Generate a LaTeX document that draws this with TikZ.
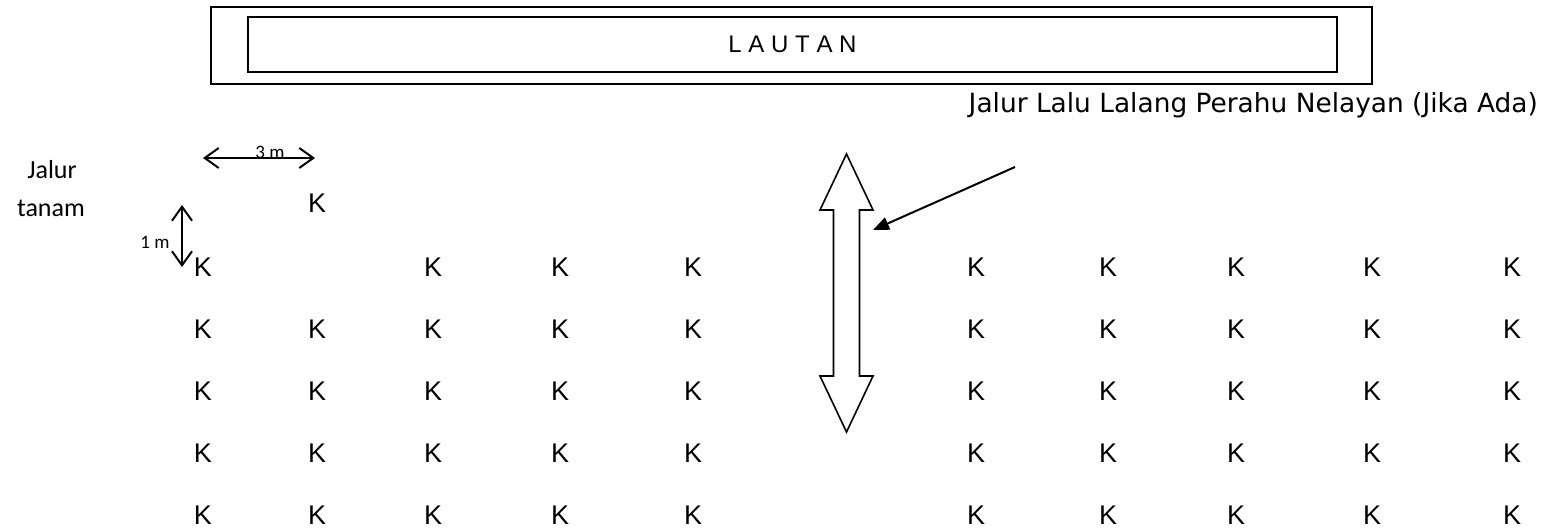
\documentclass[tikz,border=0pt]{standalone}
\usepackage{fontspec}
\setmainfont{Liberation Sans}
\newfontfamily\verdfont{DejaVu Sans}
\newfontfamily\calfont{Carlito}
\usetikzlibrary{arrows.meta}
\begin{document}
\begin{tikzpicture}[x=1pt,y=-1pt,
  box/.style={draw, line width=1.8pt, inner sep=0, fill=none},
  kk/.style={font=\fontsize{27}{30}\selectfont, inner sep=0},
  cal/.style={font=\calfont\fontsize{26}{30}\selectfont, inner sep=0},
  small/.style={font=\calfont\fontsize{19}{22}\selectfont, inner sep=0},
  dim/.style={line width=2pt, {Straight Barb[length=14pt,width=20pt]}-{Straight Barb[length=14pt,width=20pt]}},
  ]
\fill[white] (0,0) rectangle (1546,527);
\useasboundingbox (0,0) rectangle (1546,527);

% sea boxes
\node[box, minimum width=1161pt, minimum height=77.6pt] (outer) at (791.5,45.5) {};
\node[box, minimum width=1089pt, minimum height=55pt, font=\fontsize{24}{26}\selectfont] (inner) at (792.5,44.8) {L A U T A N};

% boat lane label
\node[anchor=base east, inner sep=0, font=\verdfont\fontsize{26.4}{30}\selectfont] (lane) at (1538,112) {Jalur Lalu Lalang Perahu Nelayan (Jika Ada)};

% planting row label
\node[cal] (jalur) at (52,170) {Jalur};
\node[cal] (tanam) at (51,208) {tanam};

% dimension arrows
\coordinate (h1) at (203,158);
\coordinate (h2) at (315,158);
\draw[dim] (h1) -- (h2);
\node[small] (l3) at (270,152) {3 m};
\coordinate (v1) at (182,205);
\coordinate (v2) at (182,267);
\draw[dim] (v1) -- (v2);
\node[small] (l1) at (155,242) {1 m};

% K grid
\node[kk] (kx) at (317,203) {K};
\foreach \r/\y in {1/267,2/329,3/391,4/453,5/515}{
  \foreach \c/\x in {1/203,2/317,3/433,4/560,5/693,6/976,7/1108,8/1236,9/1372,10/1512}{
    \ifnum\r=1 \ifnum\c=2 \else \node[kk] (k\r-\c) at (\x,\y) {K}; \fi
    \else \node[kk] (k\r-\c) at (\x,\y) {K}; \fi
  }
}

% double block arrow
\draw[line width=1.6pt, line join=miter, fill=white] (846.5,154) -- (873,210) -- (859.5,210) -- (859.5,376) -- (873,376) -- (846.5,432) -- (820,376) -- (833.5,376) -- (833.5,210) -- (820,210) -- cycle;
\coordinate (ptrtip) at (873,230);
\coordinate (ptrstart) at (1015,167);
\draw[line width=2pt, -{Triangle[length=16pt,width=13pt]}] (ptrstart) -- (ptrtip);
\end{tikzpicture}
\end{document}
